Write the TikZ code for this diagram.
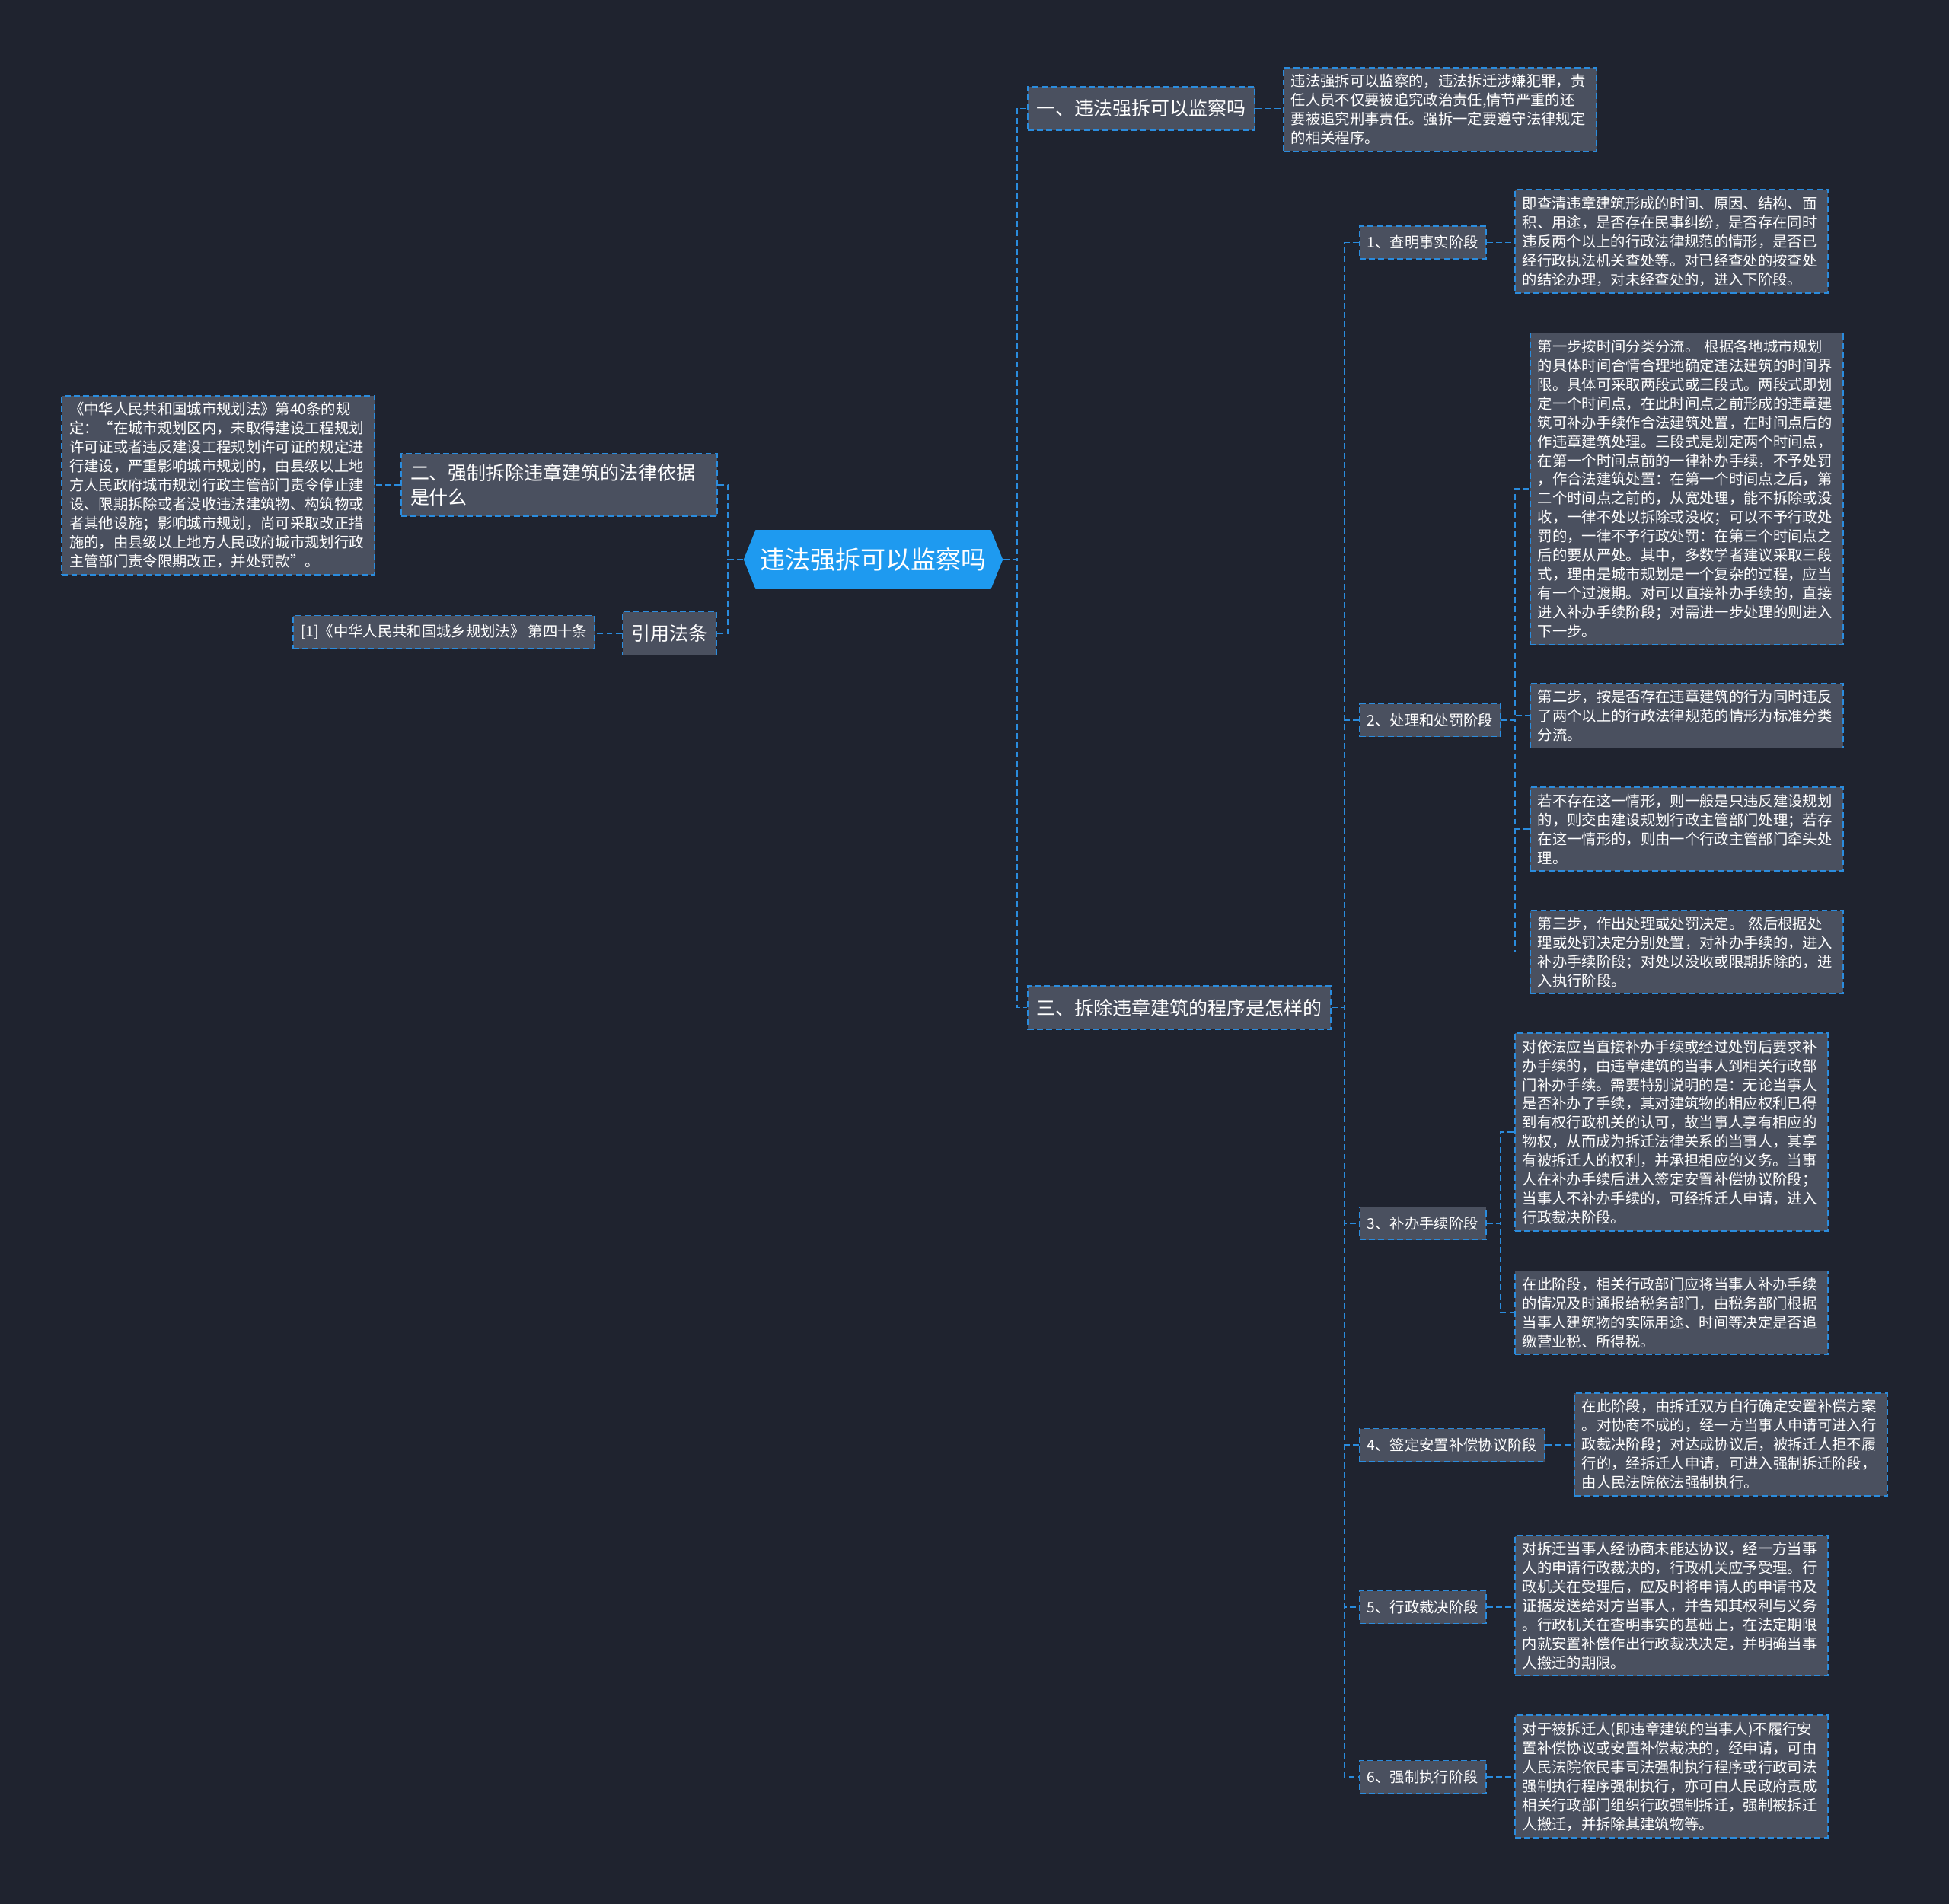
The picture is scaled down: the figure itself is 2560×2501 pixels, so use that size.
\documentclass[tikz,border=0pt]{standalone}
\usepackage{fontspec}
\setmainfont{Noto Sans CJK SC}
\usepackage{tikz}
\usetikzlibrary{positioning,calc,shapes.symbols}
\usepackage{xcolor}
\definecolor{bgnavy}{RGB}{31,35,47}
\definecolor{boxgrey}{RGB}{74,80,95}
\definecolor{edgeblue}{RGB}{42,140,222}
\definecolor{rootblue}{RGB}{30,154,240}

\begin{document}
\begin{tikzpicture}[x=0.02cm,y=-0.02cm,every node/.style={text=white},
  link/.style={edgeblue,line width=1.1pt,dash pattern=on 4.5pt off 2.5pt},
  topic/.style={draw=edgeblue,fill=boxgrey,line width=1pt,dash pattern=on 4.5pt off 2.5pt,inner xsep=0.24cm,minimum height=1.14cm,font=\fontsize{14.2pt}{18.5pt}\selectfont},
  stage/.style={topic,inner xsep=0.2cm,minimum height=0.86cm,font=\fontsize{11pt}{14.2pt}\selectfont},
  leaf/.style={topic,inner xsep=0.2cm,inner ysep=0.17cm,minimum height=0pt,text width=7.82cm,align=left,font=\fontsize{11pt}{14.2pt}\selectfont}]
\fill[bgnavy] (0,0) rectangle (2560,2501);
\useasboundingbox (0,0) rectangle (2560,2501);

\node[signal,signal to=west and east,signal pointer angle=136,fill=rootblue,minimum width=6.7cm,minimum height=1.56cm,font=\fontsize{18.8pt}{22pt}\selectfont] (root) at (1147,735) {违法强拆可以监察吗};

\node[topic,text width=7.82cm,align=left,inner ysep=0.26cm] (q2) at (734.5,637) {二、强制拆除违章建筑的法律依据\\是什么};
\node[topic] (cite) at (879.5,832) {引用法条};
\node[leaf,anchor=east] (law) at (493,637.5) {《中华人民共和国城市规划法》第40条的规\\定：“在城市规划区内，未取得建设工程规划\\许可证或者违反建设工程规划许可证的规定进\\行建设，严重影响城市规划的，由县级以上地\\方人民政府城市规划行政主管部门责令停止建\\设、限期拆除或者没收违法建筑物、构筑物或\\者其他设施；影响城市规划，尚可采取改正措\\施的，由县级以上地方人民政府城市规划行政\\主管部门责令限期改正，并处罚款”。};
\node[stage,anchor=east] (ref) at (782,830) {[1]《中华人民共和国城乡规划法》 第四十条};

\node[topic,anchor=west] (q1) at (1349,142.5) {一、违法强拆可以监察吗};
\node[topic,anchor=west] (q3) at (1349,1323.5) {三、拆除违章建筑的程序是怎样的};
\node[leaf,anchor=west] (a1) at (1685,144) {违法强拆可以监察的，违法拆迁涉嫌犯罪，责\\任人员不仅要被追究政治责任,情节严重的还\\要被追究刑事责任。强拆一定要遵守法律规定\\的相关程序。};

\node[stage,anchor=west] (s1) at (1785,318.5) {1、查明事实阶段};
\node[stage,anchor=west] (s2) at (1785,946) {2、处理和处罚阶段};
\node[stage,anchor=west] (s3) at (1785,1607) {3、补办手续阶段};
\node[stage,anchor=west] (s4) at (1785,1898) {4、签定安置补偿协议阶段};
\node[stage,anchor=west] (s5) at (1785,2111) {5、行政裁决阶段};
\node[stage,anchor=west] (s6) at (1785,2334) {6、强制执行阶段};

\node[leaf,anchor=west] (b1) at (1989,317) {即查清违章建筑形成的时间、原因、结构、面\\积、用途，是否存在民事纠纷，是否存在同时\\违反两个以上的行政法律规范的情形，是否已\\经行政执法机关查处等。对已经查处的按查处\\的结论办理，对未经查处的，进入下阶段。};
\node[leaf,anchor=west] (b2a) at (2009,642) {第一步按时间分类分流。 根据各地城市规划\\的具体时间合情合理地确定违法建筑的时间界\\限。具体可采取两段式或三段式。两段式即划\\定一个时间点，在此时间点之前形成的违章建\\筑可补办手续作合法建筑处置，在时间点后的\\作违章建筑处理。三段式是划定两个时间点，\\在第一个时间点前的一律补办手续，不予处罚\\，作合法建筑处置：在第一个时间点之后，第\\二个时间点之前的，从宽处理，能不拆除或没\\收，一律不处以拆除或没收；可以不予行政处\\罚的，一律不予行政处罚：在第三个时间点之\\后的要从严处。其中，多数学者建议采取三段\\式，理由是城市规划是一个复杂的过程，应当\\有一个过渡期。对可以直接补办手续的，直接\\进入补办手续阶段；对需进一步处理的则进入\\下一步。};
\node[leaf,anchor=west] (b2b) at (2009,940) {第二步，按是否存在违章建筑的行为同时违反\\了两个以上的行政法律规范的情形为标准分类\\分流。};
\node[leaf,anchor=west] (b2c) at (2009,1089) {若不存在这一情形，则一般是只违反建设规划\\的，则交由建设规划行政主管部门处理；若存\\在这一情形的，则由一个行政主管部门牵头处\\理。};
\node[leaf,anchor=west] (b2d) at (2009,1250.5) {第三步，作出处理或处罚决定。 然后根据处\\理或处罚决定分别处置，对补办手续的，进入\\补办手续阶段；对处以没收或限期拆除的，进\\入执行阶段。};
\node[leaf,anchor=west] (b3a) at (1989,1487) {对依法应当直接补办手续或经过处罚后要求补\\办手续的，由违章建筑的当事人到相关行政部\\门补办手续。需要特别说明的是：无论当事人\\是否补办了手续，其对建筑物的相应权利已得\\到有权行政机关的认可，故当事人享有相应的\\物权，从而成为拆迁法律关系的当事人，其享\\有被拆迁人的权利，并承担相应的义务。当事\\人在补办手续后进入签定安置补偿协议阶段；\\当事人不补办手续的，可经拆迁人申请，进入\\行政裁决阶段。};
\node[leaf,anchor=west] (b3b) at (1989,1724.5) {在此阶段，相关行政部门应将当事人补办手续\\的情况及时通报给税务部门，由税务部门根据\\当事人建筑物的实际用途、时间等决定是否追\\缴营业税、所得税。};
\node[leaf,anchor=west] (b4) at (2067,1897.5) {在此阶段，由拆迁双方自行确定安置补偿方案\\。对协商不成的，经一方当事人申请可进入行\\政裁决阶段；对达成协议后，被拆迁人拒不履\\行的，经拆迁人申请，可进入强制拆迁阶段，\\由人民法院依法强制执行。};
\node[leaf,anchor=west] (b5) at (1989,2109) {对拆迁当事人经协商未能达协议，经一方当事\\人的申请行政裁决的，行政机关应予受理。行\\政机关在受理后，应及时将申请人的申请书及\\证据发送给对方当事人，并告知其权利与义务\\。行政机关在查明事实的基础上，在法定期限\\内就安置补偿作出行政裁决决定，并明确当事\\人搬迁的期限。};
\node[leaf,anchor=west] (b6) at (1989,2333.5) {对于被拆迁人(即违章建筑的当事人)不履行安\\置补偿协议或安置补偿裁决的，经申请，可由\\人民法院依民事司法强制执行程序或行政司法\\强制执行程序强制执行，亦可由人民政府责成\\相关行政部门组织行政强制拆迁，强制被拆迁\\人搬迁，并拆除其建筑物等。};

\draw[link] (root.east) -- ++(18,0) |- (q1.west);
\draw[link] (root.east) -- ++(18,0) |- (q3.west);
\draw[link] (root.west) -- ++(-20,0) |- (q2.east);
\draw[link] (root.west) -- ++(-20,0) |- (cite.east);
\draw[link] (q1.east) -- (q1.east -| a1.west);
\draw[link] (q2.west) -- (q2.west -| law.east);
\draw[link] (cite.west) -- (cite.west -| ref.east);
\foreach \s in {s1,s2,s3,s4,s5,s6}
  \draw[link] (q3.east) -- ++(17,0) |- (\s.west);
\foreach \s/\b in {s1/b1,s4/b4,s5/b5,s6/b6}
  \draw[link] (\s.east) -- (\s.east -| \b.west);
\foreach \b in {b2a,b2b,b2c,b2d}
  \draw[link] (s2.east) -- ++(18,0) |- (\b.west);
\foreach \b in {b3a,b3b}
  \draw[link] (s3.east) -- ++(18,0) |- (\b.west);
\end{tikzpicture}
\end{document}
